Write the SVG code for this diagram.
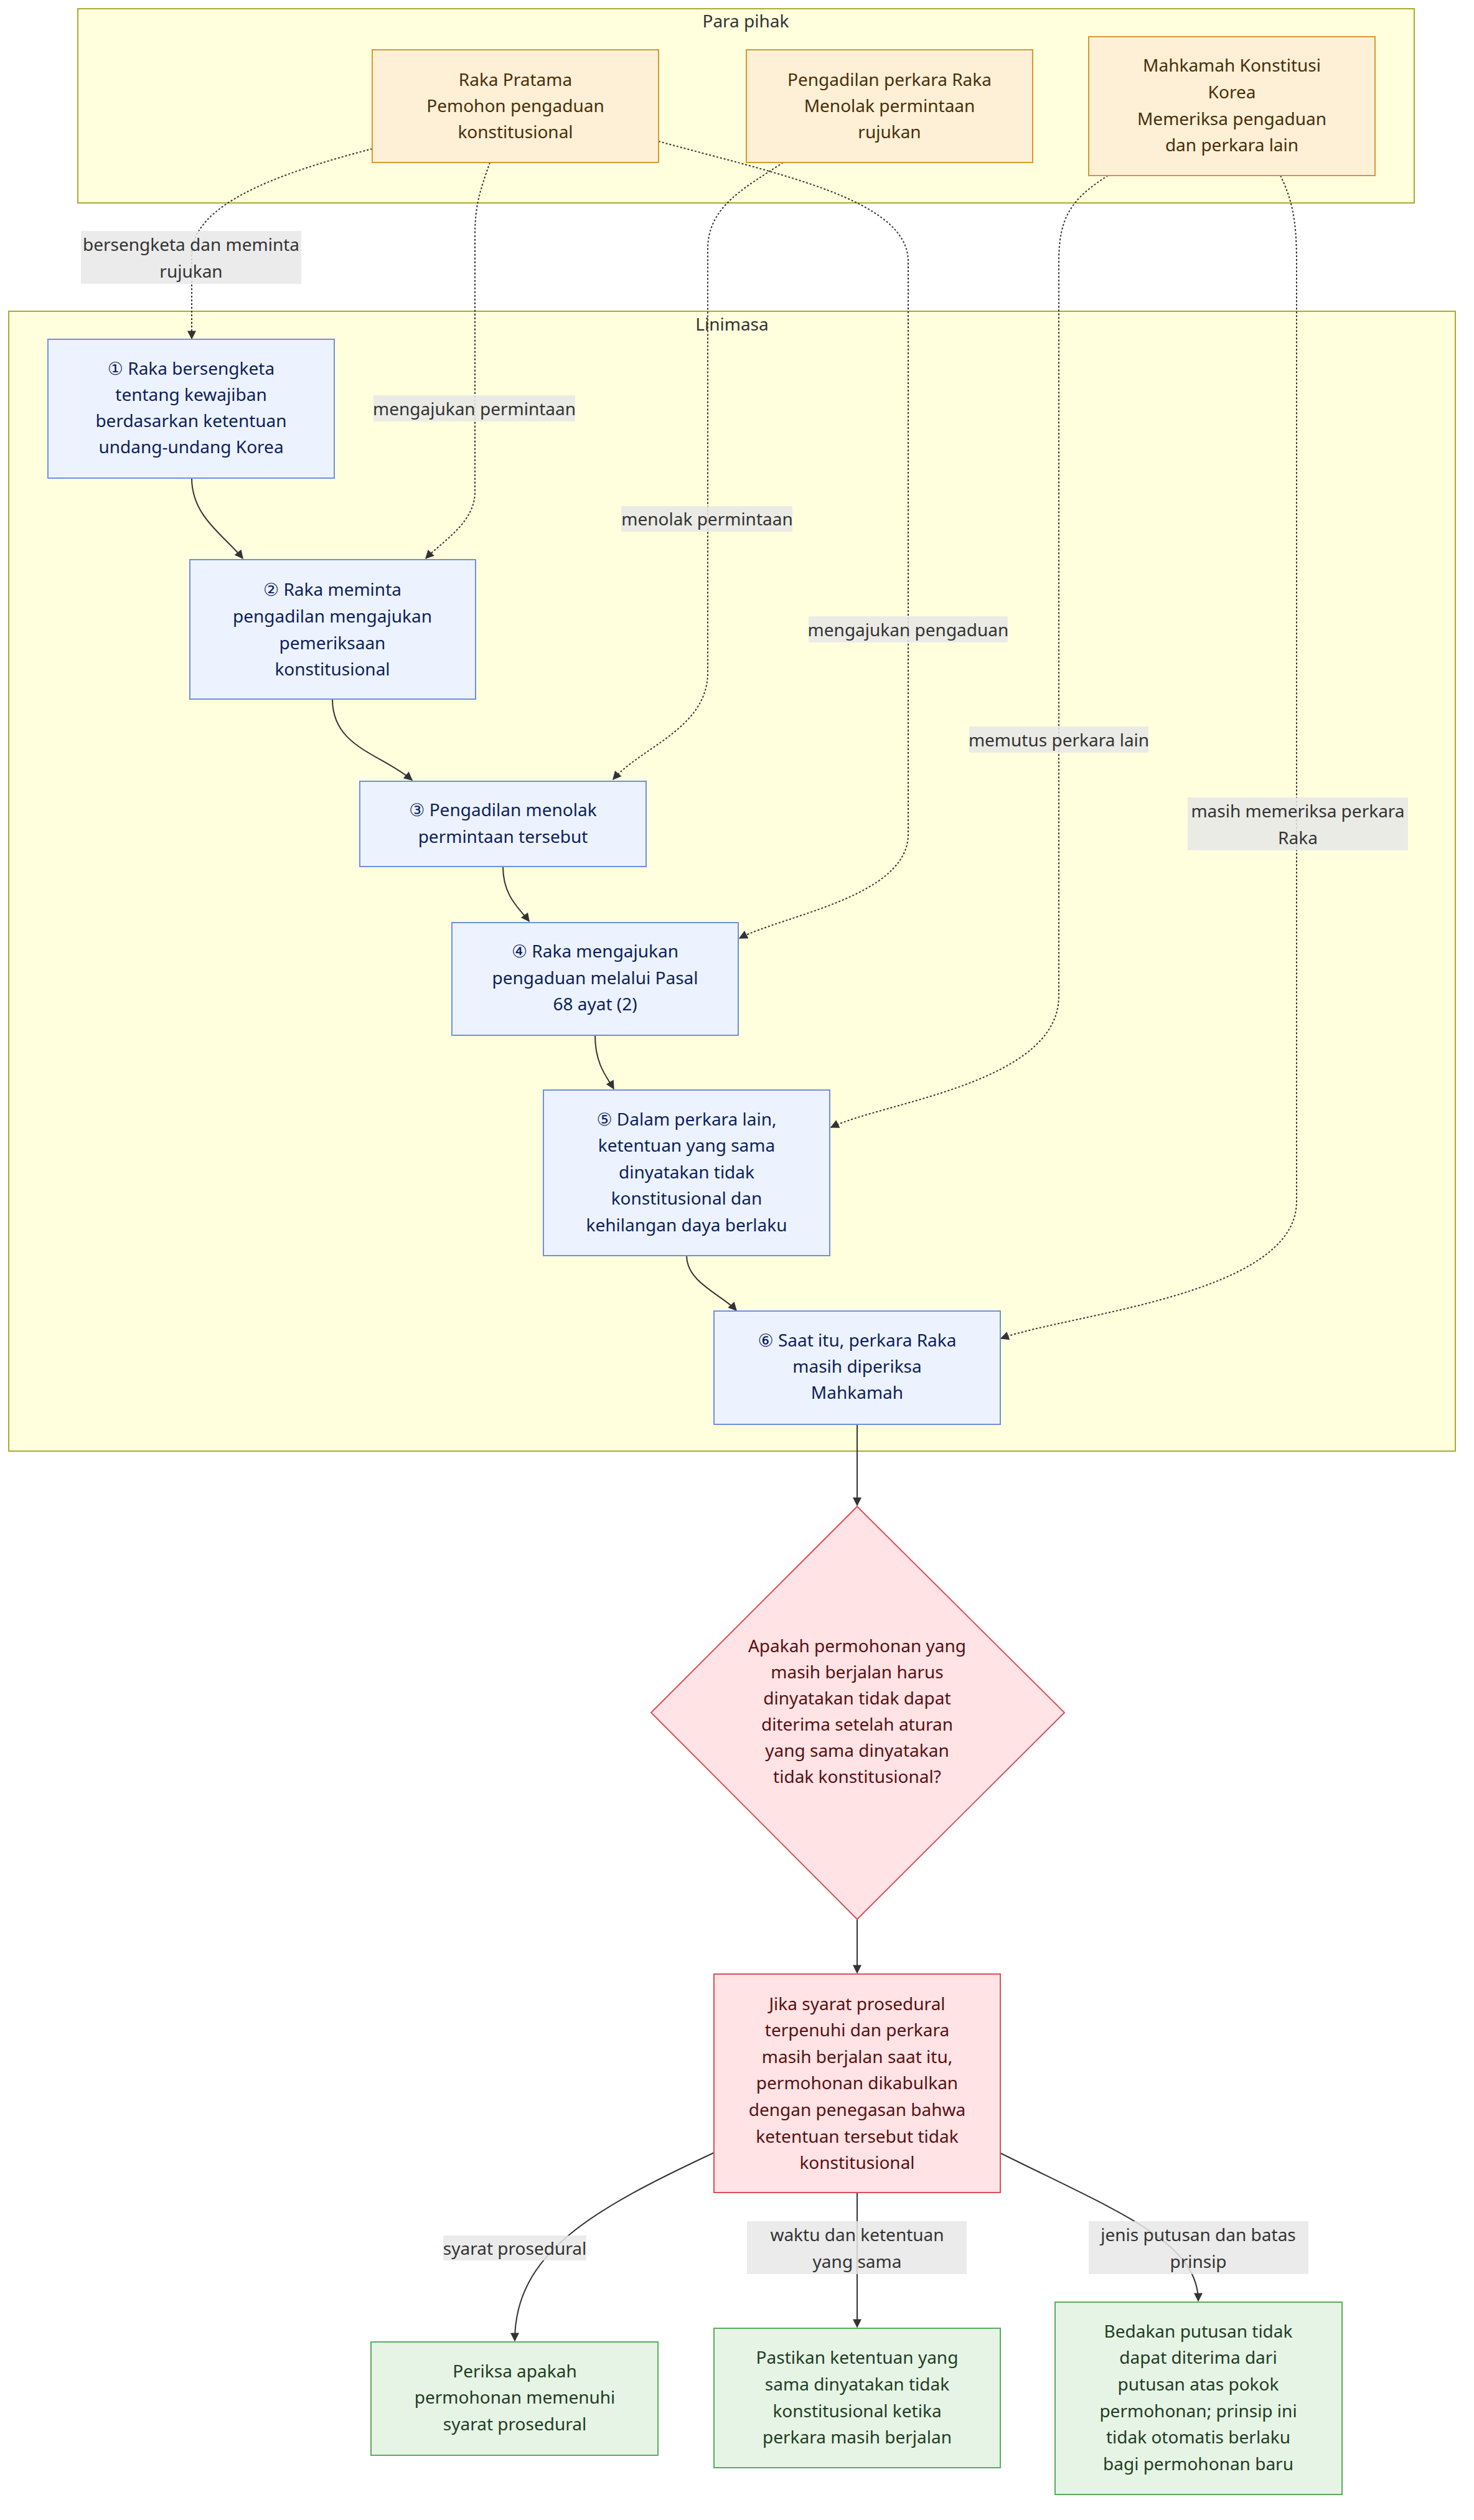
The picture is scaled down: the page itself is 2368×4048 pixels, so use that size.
<svg xmlns="http://www.w3.org/2000/svg" width="2368" height="4048" viewBox="0 0 2368 4048">
<defs>
<marker id="arr" viewBox="0 0 10 10" refX="9" refY="5" markerUnits="userSpaceOnUse" markerWidth="16" markerHeight="14" orient="auto">
<path d="M0,0 L10,5 L0,10 z" fill="#333333"/>
</marker>
<style>
text{font-family:"Noto Sans","Open Sans","DejaVu Sans",sans-serif;font-size:28px;text-anchor:middle;dominant-baseline:central}
.cluster{fill:#ffffde;stroke:#aaaa33;stroke-width:2}
.ctitle{fill:#333333}
.party rect{fill:#fdf0d6;stroke:#d39a2e;stroke-width:2}
.party text{fill:#4a2e0a}
.step rect{fill:#ecf3ff;stroke:#6f8fe0;stroke-width:2}
.step text{fill:#0d1f5c}
.red rect,.red polygon{fill:#ffe3e5;stroke:#d9505a;stroke-width:2}
.red text{fill:#5a0f0f}
.green rect{fill:#e6f4e6;stroke:#5aab5e;stroke-width:2}
.green text{fill:#1f3d1f}
.e{fill:none;stroke:#333333;stroke-width:2;marker-end:url(#arr)}
.d{stroke-dasharray:3 3}
.lbl rect{fill:#e8e8e8;fill-opacity:0.85}
.lbl text{fill:#333333}
</style>
</defs>
<rect width="2368" height="4048" fill="#ffffff"/>

<g id="cluster-para-pihak">
<rect class="cluster" x="125" y="14" width="2147" height="312"/>
<text class="ctitle" x="1198" y="33">Para pihak</text>
</g>
<g id="cluster-linimasa">
<rect class="cluster" x="14" y="500" width="2324" height="1831"/>
<text class="ctitle" x="1176" y="520">Linimasa</text>
</g>

<g id="connectors">
<path class="e d" d="M598,239 C440,280 308,330 308,410 L308,544"/>
<path class="e d" d="M787,261 C770,310 763,330 763,380 L763,790 C763,840 710,870 684,897"/>
<path class="e d" d="M1258,261 C1200,300 1137,330 1137,400 L1137,1080 C1137,1170 1030,1200 985,1252"/>
<path class="e d" d="M1058,227 C1250,280 1459,320 1459,420 L1459,1340 C1459,1440 1260,1470 1188,1507"/>
<path class="e d" d="M1780,282 C1720,320 1701,350 1701,420 L1701,1600 C1701,1740 1420,1770 1335,1811"/>
<path class="e d" d="M2057,282 C2075,320 2083,350 2083,420 L2083,1930 C2083,2080 1720,2110 1608,2150"/>
<path class="e" d="M308,768 C308,830 360,860 390,897"/>
<path class="e" d="M534,1123 C534,1200 610,1210 662,1253"/>
<path class="e" d="M808,1392 C808,1440 835,1460 850,1480"/>
<path class="e" d="M956,1663 C956,1710 975,1730 986,1749"/>
<path class="e" d="M1103,2017 C1103,2060 1160,2080 1183,2105"/>
<path class="e" d="M1377,2288 L1377,2418"/>
<path class="e" d="M1377,3083 L1377,3169"/>
<path class="e" d="M1147,3458 C950,3550 827,3620 827,3760"/>
<path class="e" d="M1377,3522 L1377,3738"/>
<path class="e" d="M1606,3458 C1790,3550 1925,3600 1925,3696"/>
<g class="lbl">
<rect x="130" y="371" width="354" height="85"/>
<text x="307" y="392">bersengketa dan meminta</text>
<text x="307" y="435">rujukan</text>
<rect x="600" y="635" width="324" height="42"/>
<text x="762" y="656">mengajukan permintaan</text>
<rect x="998" y="813" width="275" height="41"/>
<text x="1136" y="833">menolak permintaan</text>
<rect x="1299" y="990" width="320" height="42"/>
<text x="1459" y="1011">mengajukan pengaduan</text>
<rect x="1557" y="1167" width="288" height="42"/>
<text x="1701" y="1188">memutus perkara lain</text>
<rect x="1908" y="1281" width="354" height="85"/>
<text x="2085" y="1302">masih memeriksa perkara</text>
<text x="2085" y="1345">Raka</text>
<rect x="712" y="3591" width="230" height="40"/>
<text x="827" y="3611">syarat prosedural</text>
<rect x="1200" y="3568" width="353" height="85"/>
<text x="1377" y="3589">waktu dan ketentuan</text>
<text x="1377" y="3632">yang sama</text>
<rect x="1749" y="3568" width="353" height="85"/>
<text x="1925" y="3589">jenis putusan dan batas</text>
<text x="1925" y="3632">prinsip</text>
</g>
</g>

<g id="raka-pratama" class="party">
<rect x="598" y="80" width="460" height="181"/>
<text x="828" y="127">Raka Pratama</text>
<text x="828" y="169">Pemohon pengaduan</text>
<text x="828" y="211">konstitusional</text>
</g>
<g id="pengadilan" class="party">
<rect x="1199" y="80" width="460" height="181"/>
<text x="1429" y="127">Pengadilan perkara Raka</text>
<text x="1429" y="169">Menolak permintaan</text>
<text x="1429" y="211">rujukan</text>
</g>
<g id="mahkamah" class="party">
<rect x="1749" y="59" width="460" height="223"/>
<text x="1979" y="104">Mahkamah Konstitusi</text>
<text x="1979" y="147">Korea</text>
<text x="1979" y="190">Memeriksa pengaduan</text>
<text x="1979" y="232">dan perkara lain</text>
</g>

<g id="step1" class="step">
<rect x="77" y="545" width="460" height="223"/>
<text x="307" y="591">① Raka bersengketa</text>
<text x="307" y="633">tentang kewajiban</text>
<text x="307" y="675">berdasarkan ketentuan</text>
<text x="307" y="717">undang-undang Korea</text>
</g>
<g id="step2" class="step">
<rect x="305" y="899" width="459" height="224"/>
<text x="534" y="946">② Raka meminta</text>
<text x="534" y="989">pengadilan mengajukan</text>
<text x="534" y="1032">pemeriksaan</text>
<text x="534" y="1074">konstitusional</text>
</g>
<g id="step3" class="step">
<rect x="578" y="1255" width="460" height="137"/>
<text x="808" y="1300">③ Pengadilan menolak</text>
<text x="808" y="1343">permintaan tersebut</text>
</g>
<g id="step4" class="step">
<rect x="726" y="1482" width="460" height="181"/>
<text x="956" y="1527">④ Raka mengajukan</text>
<text x="956" y="1570">pengaduan melalui Pasal</text>
<text x="956" y="1612">68 ayat (2)</text>
</g>
<g id="step5" class="step">
<rect x="873" y="1751" width="460" height="266"/>
<text x="1103" y="1797">⑤ Dalam perkara lain,</text>
<text x="1103" y="1839">ketentuan yang sama</text>
<text x="1103" y="1882">dinyatakan tidak</text>
<text x="1103" y="1924">konstitusional dan</text>
<text x="1103" y="1967">kehilangan daya berlaku</text>
</g>
<g id="step6" class="step">
<rect x="1147" y="2106" width="460" height="182"/>
<text x="1377" y="2152">⑥ Saat itu, perkara Raka</text>
<text x="1377" y="2194">masih diperiksa</text>
<text x="1377" y="2236">Mahkamah</text>
</g>

<g id="question" class="red">
<polygon points="1377,2420 1710,2751 1377,3083 1046,2751"/>
<text x="1377" y="2643">Apakah permohonan yang</text>
<text x="1377" y="2685">masih berjalan harus</text>
<text x="1377" y="2727">dinyatakan tidak dapat</text>
<text x="1377" y="2769">diterima setelah aturan</text>
<text x="1377" y="2811">yang sama dinyatakan</text>
<text x="1377" y="2853">tidak konstitusional?</text>
</g>
<g id="answer" class="red">
<rect x="1147" y="3171" width="460" height="351"/>
<text x="1377" y="3218">Jika syarat prosedural</text>
<text x="1377" y="3260">terpenuhi dan perkara</text>
<text x="1377" y="3303">masih berjalan saat itu,</text>
<text x="1377" y="3345">permohonan dikabulkan</text>
<text x="1377" y="3388">dengan penegasan bahwa</text>
<text x="1377" y="3431">ketentuan tersebut tidak</text>
<text x="1377" y="3473">konstitusional</text>
</g>

<g id="check1" class="green">
<rect x="596" y="3762" width="461" height="182"/>
<text x="827" y="3808">Periksa apakah</text>
<text x="827" y="3850">permohonan memenuhi</text>
<text x="827" y="3893">syarat prosedural</text>
</g>
<g id="check2" class="green">
<rect x="1147" y="3740" width="460" height="224"/>
<text x="1377" y="3786">Pastikan ketentuan yang</text>
<text x="1377" y="3829">sama dinyatakan tidak</text>
<text x="1377" y="3872">konstitusional ketika</text>
<text x="1377" y="3914">perkara masih berjalan</text>
</g>
<g id="check3" class="green">
<rect x="1695" y="3698" width="461" height="309"/>
<text x="1925" y="3744">Bedakan putusan tidak</text>
<text x="1925" y="3786">dapat diterima dari</text>
<text x="1925" y="3829">putusan atas pokok</text>
<text x="1925" y="3872">permohonan; prinsip ini</text>
<text x="1925" y="3914">tidak otomatis berlaku</text>
<text x="1925" y="3957">bagi permohonan baru</text>
</g>
</svg>
